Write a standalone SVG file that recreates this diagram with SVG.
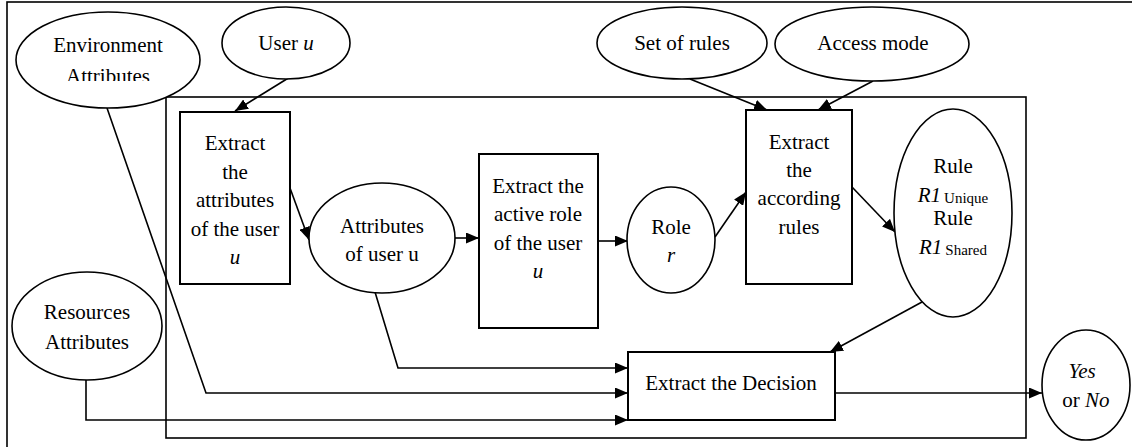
<svg xmlns="http://www.w3.org/2000/svg" width="1132" height="447" viewBox="0 0 1132 447" font-family="'Liberation Serif', 'DejaVu Serif', serif">
  <style>
    text { font-family: 'Liberation Serif', 'DejaVu Serif', serif; font-size: 21px; fill: #000; text-anchor: middle; }
    .it { font-style: italic; }
    .sub { font-size: 15px; font-style: normal; }
    .shape { fill: #fff; stroke: #000; stroke-width: 1.6; }
    .box { fill: #fff; stroke: #000; stroke-width: 2; }
    .frame { fill: none; stroke: #000; stroke-width: 1.6; }
    .edge { fill: none; stroke: #000; stroke-width: 1.6; marker-end: url(#arrow); }
  </style>
  <defs>
    <marker id="arrow" markerUnits="userSpaceOnUse" markerWidth="13" markerHeight="11" refX="13" refY="5.5" orient="auto">
      <path d="M0,0 L13,5.5 L0,11 z" fill="#000"/>
    </marker>
    <clipPath id="envClip">
      <rect x="0" y="0" width="300" height="81"/>
    </clipPath>
  </defs>

  <rect width="1132" height="447" fill="#fff"/>

  <!-- outer frame and inner system boundary -->
  <rect class="frame" x="7" y="2" width="1140" height="460"/>
  <rect class="frame" x="166" y="97" width="860" height="341"/>

  <!-- connectors -->
  <g id="connectors">
    <line class="edge" x1="290" y1="77" x2="235" y2="111"/>
    <line class="edge" x1="690" y1="79" x2="767" y2="110"/>
    <line class="edge" x1="873" y1="81" x2="818" y2="110"/>
    <line class="edge" x1="290" y1="188" x2="309" y2="240"/>
    <line class="edge" x1="455" y1="238" x2="479" y2="238"/>
    <line class="edge" x1="598" y1="241" x2="628" y2="241"/>
    <line class="edge" x1="715" y1="237" x2="746" y2="192"/>
    <line class="edge" x1="852" y1="187" x2="895" y2="232"/>
    <line class="edge" x1="922" y1="302" x2="830" y2="352"/>
    <polyline class="edge" points="375,292 398,368 628,368"/>
    <polyline class="edge" points="107,108 206,393 628,393"/>
    <polyline class="edge" points="86,380 86,420 628,420"/>
    <line class="edge" x1="835" y1="393" x2="1042" y2="393"/>
  </g>

  <g id="env-attributes">
    <ellipse class="shape" cx="108" cy="60" rx="92" ry="48"/>
    <text x="108" y="52">Environment</text>
    <text x="108" y="83" clip-path="url(#envClip)">Attributes</text>
  </g>

  <g id="user">
    <ellipse class="shape" cx="286" cy="43" rx="64" ry="36"/>
    <text x="286" y="50">User <tspan class="it">u</tspan></text>
  </g>

  <g id="set-of-rules">
    <ellipse class="shape" cx="682" cy="43" rx="85" ry="36"/>
    <text x="682" y="50">Set of rules</text>
  </g>

  <g id="access-mode">
    <ellipse class="shape" cx="872" cy="44" rx="97" ry="37"/>
    <text x="873" y="50">Access mode</text>
  </g>

  <g id="resources-attributes">
    <ellipse class="shape" cx="87" cy="326" rx="75" ry="54"/>
    <text x="87" y="319">Resources</text>
    <text x="87" y="349">Attributes</text>
  </g>

  <g id="extract-user-attributes">
    <rect class="box" x="180" y="112" width="110" height="172"/>
    <text x="235" y="150">Extract</text>
    <text x="235" y="179">the</text>
    <text x="235" y="207">attributes</text>
    <text x="235" y="236">of the user</text>
    <text x="235" y="264" class="it">u</text>
  </g>

  <g id="user-attributes">
    <ellipse class="shape" cx="382" cy="238" rx="73" ry="55"/>
    <text x="382" y="233">Attributes</text>
    <text x="382" y="261">of user u</text>
  </g>

  <g id="extract-active-role">
    <rect class="box" x="479" y="154" width="119" height="174"/>
    <text x="538" y="193">Extract the</text>
    <text x="538" y="221">active role</text>
    <text x="538" y="250">of the user</text>
    <text x="538" y="278" class="it">u</text>
  </g>

  <g id="role">
    <ellipse class="shape" cx="671" cy="240" rx="44" ry="53"/>
    <text x="671" y="234">Role</text>
    <text x="671" y="262" class="it">r</text>
  </g>

  <g id="extract-rules">
    <rect class="box" x="746" y="110" width="106" height="174"/>
    <text x="799" y="149">Extract</text>
    <text x="799" y="177">the</text>
    <text x="799" y="205">according</text>
    <text x="799" y="234">rules</text>
  </g>

  <g id="rules">
    <ellipse class="shape" cx="953" cy="213" rx="59" ry="104"/>
    <text x="953" y="173">Rule</text>
    <text x="953" y="202"><tspan class="it">R1</tspan><tspan class="sub" dx="3" dy="1">Unique</tspan></text>
    <text x="953" y="225">Rule</text>
    <text x="953" y="254"><tspan class="it">R1</tspan><tspan class="sub" dx="3" dy="1">Shared</tspan></text>
  </g>

  <g id="extract-decision">
    <rect class="box" x="628" y="352" width="207" height="68"/>
    <text x="731" y="390">Extract the Decision</text>
  </g>

  <g id="decision">
    <ellipse class="shape" cx="1086" cy="385" rx="44" ry="55"/>
    <text x="1082" y="378" class="it">Yes</text>
    <text x="1086" y="407">or <tspan class="it">No</tspan></text>
  </g>
</svg>
